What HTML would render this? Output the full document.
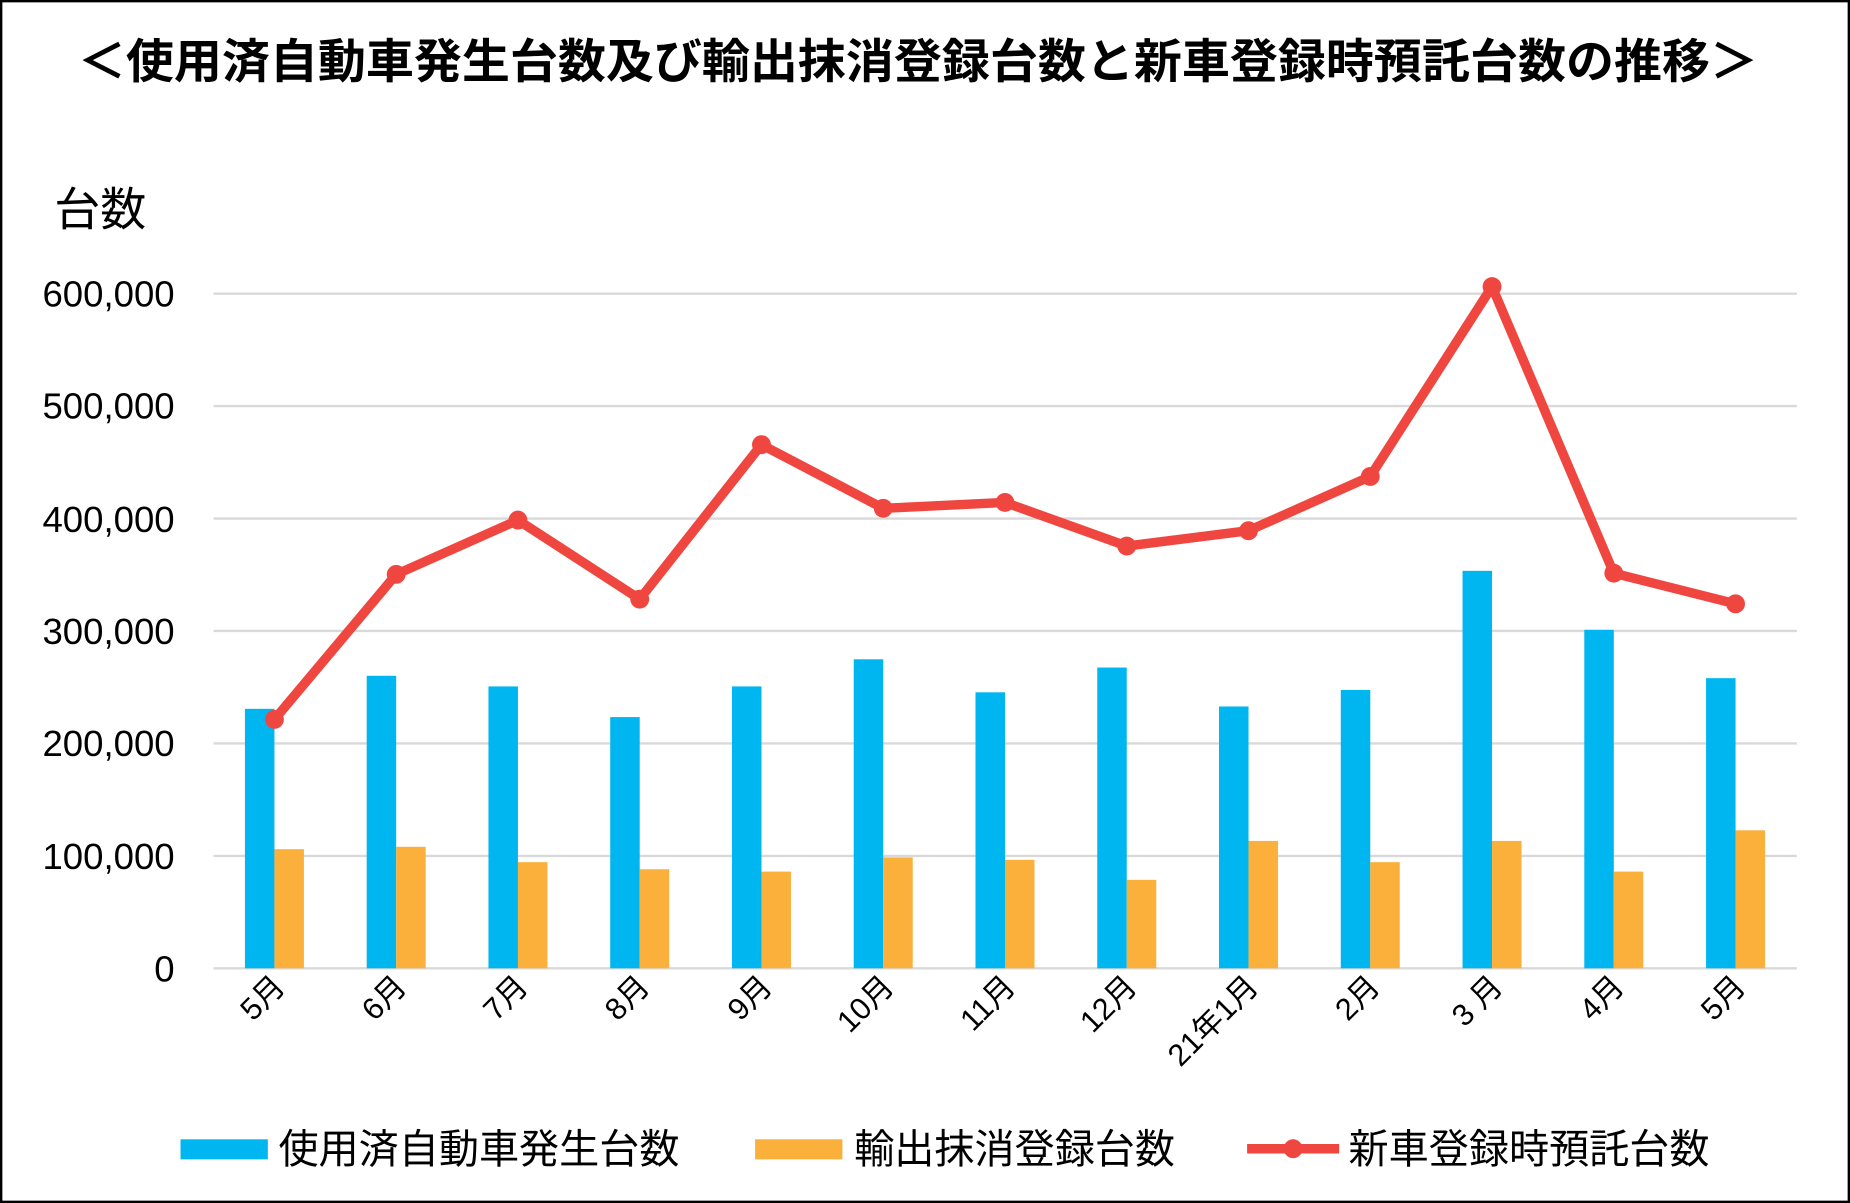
<!DOCTYPE html>
<html><head><meta charset="utf-8"><style>
html,body{margin:0;padding:0;background:#fff}
svg{display:block}
text{font-family:"Liberation Sans","Noto Sans CJK JP",sans-serif;fill:#000}
</style></head><body>
<svg width="1850" height="1203" viewBox="0 0 1568 1020" preserveAspectRatio="none" xmlns="http://www.w3.org/2000/svg">
<rect x="1" y="1" width="1566" height="1018" fill="#fff" stroke="#000" stroke-width="2"/>
<text x="778" y="66" font-size="40" font-weight="bold" text-anchor="middle" textLength="1424" lengthAdjust="spacingAndGlyphs">＜使用済自動車発生台数及び輸出抹消登録台数と新車登録時預託台数の推移＞</text>
<text x="46" y="191" font-size="39">台数</text>
<g stroke="#d9d9d9" stroke-width="2">
<line x1="181" x2="1523" y1="249" y2="249"/><line x1="181" x2="1523" y1="344.3" y2="344.3"/>
<line x1="181" x2="1523" y1="439.7" y2="439.7"/><line x1="181" x2="1523" y1="535" y2="535"/>
<line x1="181" x2="1523" y1="630.3" y2="630.3"/><line x1="181" x2="1523" y1="725.7" y2="725.7"/>
<line x1="181" x2="1523" y1="821" y2="821"/>
</g>
<g font-size="31" text-anchor="end">
<text x="148" y="260">600,000</text><text x="148" y="355">500,000</text><text x="148" y="451">400,000</text>
<text x="148" y="546">300,000</text><text x="148" y="641">200,000</text><text x="148" y="737">100,000</text>
<text x="148" y="832">0</text>
</g>
<g fill="#00b6f0">
<rect x="207.6" y="601" width="25" height="220"/><rect x="310.8" y="573" width="25" height="248"/>
<rect x="414" y="582" width="25" height="239"/><rect x="517.2" y="608" width="25" height="213"/>
<rect x="620.4" y="582" width="25" height="239"/><rect x="723.6" y="559" width="25" height="262"/>
<rect x="826.8" y="587" width="25" height="234"/><rect x="930" y="566" width="25" height="255"/>
<rect x="1033.2" y="599" width="25" height="222"/><rect x="1136.4" y="585" width="25" height="236"/>
<rect x="1239.6" y="484" width="25" height="337"/><rect x="1342.8" y="534" width="25" height="287"/>
<rect x="1446" y="575" width="25" height="246"/>
</g>
<g fill="#fbb03b">
<rect x="232.6" y="720" width="25" height="101"/><rect x="335.8" y="718" width="25" height="103"/>
<rect x="439" y="731" width="25" height="90"/><rect x="542.2" y="737" width="25" height="84"/>
<rect x="645.4" y="739" width="25" height="82"/><rect x="748.6" y="727" width="25" height="94"/>
<rect x="851.8" y="729" width="25" height="92"/><rect x="955" y="746" width="25" height="75"/>
<rect x="1058.2" y="713" width="25" height="108"/><rect x="1161.4" y="731" width="25" height="90"/>
<rect x="1264.6" y="713" width="25" height="108"/><rect x="1367.8" y="739" width="25" height="82"/>
<rect x="1471" y="704" width="25" height="117"/>
</g>
<polyline fill="none" stroke="#ef4640" stroke-width="8" stroke-linejoin="round" points="232.6,610 335.8,487 439,441 542.2,508 645.4,377 748.6,431 851.8,426 955,463 1058.2,450 1161.4,404 1264.6,243 1367.8,486 1471,512"/>
<g fill="#ef4640">
<circle cx="232.6" cy="610" r="8"/><circle cx="335.8" cy="487" r="8"/><circle cx="439" cy="441" r="8"/>
<circle cx="542.2" cy="508" r="8"/><circle cx="645.4" cy="377" r="8"/><circle cx="748.6" cy="431" r="8"/>
<circle cx="851.8" cy="426" r="8"/><circle cx="955" cy="463" r="8"/><circle cx="1058.2" cy="450" r="8"/>
<circle cx="1161.4" cy="404" r="8"/><circle cx="1264.6" cy="243" r="8"/><circle cx="1367.8" cy="486" r="8"/>
<circle cx="1471" cy="512" r="8"/>
</g>
<g font-size="26" text-anchor="end">
<text transform="translate(243,838) rotate(-45)">5月</text>
<text transform="translate(346,838) rotate(-45)">6月</text>
<text transform="translate(449,838) rotate(-45)">7月</text>
<text transform="translate(552,838) rotate(-45)">8月</text>
<text transform="translate(656,838) rotate(-45)">9月</text>
<text transform="translate(759,838) rotate(-45)">10月</text>
<text transform="translate(862,838) rotate(-45)">11月</text>
<text transform="translate(965,838) rotate(-45)">12月</text>
<text transform="translate(1068,838) rotate(-45)">21年1月</text>
<text transform="translate(1171,838) rotate(-45)">2月</text>
<text transform="translate(1275,838) rotate(-45)">3 月</text>
<text transform="translate(1378,838) rotate(-45)">4月</text>
<text transform="translate(1481,838) rotate(-45)">5月</text>
</g>
<rect x="153" y="966" width="74" height="17" fill="#00b6f0"/>
<text x="236" y="986" font-size="34">使用済自動車発生台数</text>
<rect x="640" y="966" width="74" height="17" fill="#fbb03b"/>
<text x="724" y="986" font-size="34">輸出抹消登録台数</text>
<line x1="1057" y1="974" x2="1135" y2="974" stroke="#ef4640" stroke-width="8"/>
<circle cx="1096" cy="974" r="8" fill="#ef4640"/>
<text x="1143" y="986" font-size="34">新車登録時預託台数</text>
</svg>
</body></html>
